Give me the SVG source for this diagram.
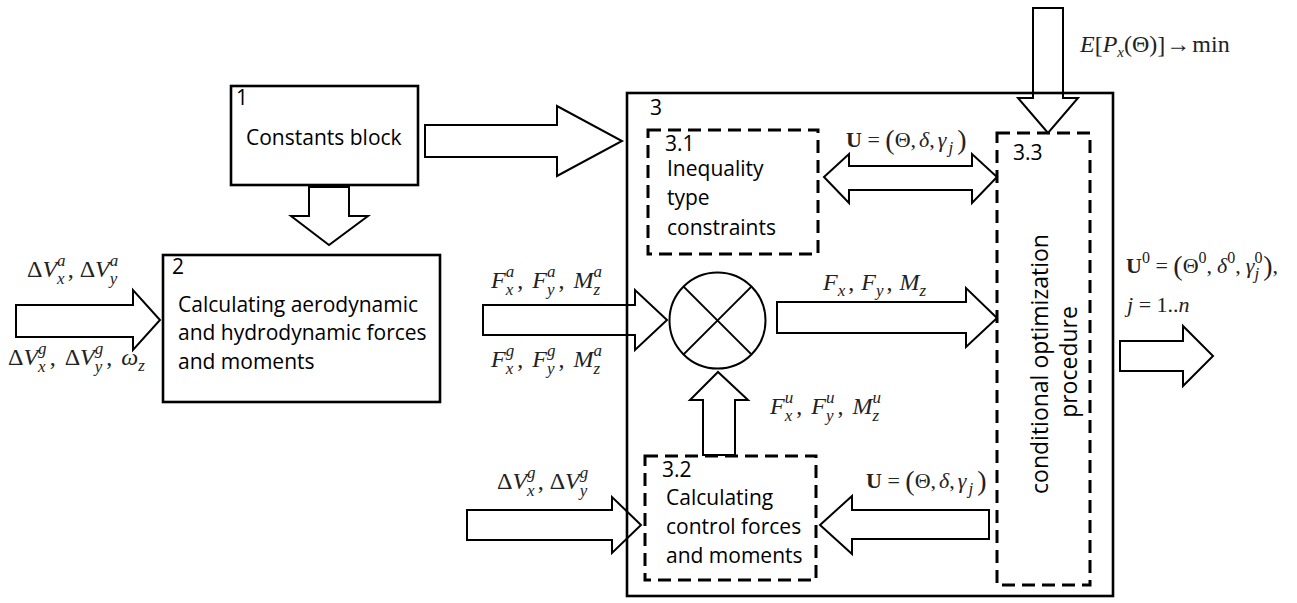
<svg xmlns="http://www.w3.org/2000/svg" width="1297" height="603" viewBox="0 0 1297 603">
<style>
.box{fill:none;stroke:#000;stroke-width:2.6}
.dbox{fill:none;stroke:#000;stroke-width:3;stroke-dasharray:13,7}
.arr{fill:#fff;stroke:#000;stroke-width:2;stroke-linejoin:miter}
.t{font-family:"Open Sans","Noto Sans","Liberation Sans",sans-serif;font-size:21px;fill:#000}
.r{font-size:23px}
.m{font-family:"Liberation Serif","DejaVu Serif",serif;font-size:24px;fill:#222}
.u{font-size:22px}
.i{font-style:italic}
.s{font-size:17px;font-style:italic}
.n{font-size:16px}
.b{font-weight:bold}
.p{font-size:28px}
</style>
<rect width="1297" height="603" fill="#fff"/>

<g id="connectors">
  <polygon class="arr" points="16,305 133,305 133,290 160,320 133,350 133,337 16,337"/>
  <polygon class="arr" points="425,125 557,125 557,106 622,141 557,176 557,157 425,157"/>
  <polygon class="arr" points="309,187 349,187 349,216 368,216 329,245 291,216 309,216"/>
  <polygon class="arr" points="483,305 635,305 635,290 667,320 635,350 635,335 483,335"/>
  <polygon class="arr" points="777,302 966,302 966,288 997,318 966,347 966,333 777,333"/>
  <polygon class="arr" points="703,455 703,400 690,400 718,372 748,400 735,400 735,455"/>
  <polygon class="arr" points="824,177 849,154 849,166 972,166 972,154 997,177 972,203 972,190 849,190 849,203"/>
  <polygon class="arr" points="467,510 612,510 612,497 641,525 612,553 612,540 467,540"/>
  <polygon class="arr" points="989,510 852,510 852,496 820,525 852,554 852,539 989,539"/>
  <polygon class="arr" points="1033,8 1063,8 1063,98 1078,98 1048,133 1018,98 1033,98"/>
  <polygon class="arr" points="1120,341 1183,341 1183,326 1213,356 1183,386 1183,371 1120,371"/>
</g>

<g id="node1">
  <rect class="box" x="231" y="86" width="187" height="99"/>
  <text class="t" x="236" y="105">1</text>
  <text class="t" x="246" y="145">Constants block</text>
</g>

<g id="node2">
  <rect class="box" x="163" y="255" width="277" height="147"/>
  <text class="t" x="172" y="274">2</text>
  <text class="t" x="178" y="312">Calculating aerodynamic</text>
  <text class="t" x="178" y="340">and hydrodynamic forces</text>
  <text class="t" x="178" y="369">and moments</text>
</g>

<g id="node3">
  <rect class="box" x="627" y="93" width="486" height="503"/>
  <text class="t" x="650" y="115">3</text>
</g>

<g id="node3_1">
  <rect class="dbox" x="648" y="130" width="170" height="124"/>
  <text class="t" x="665" y="151">3.1</text>
  <text class="t" x="667" y="176">Inequality</text>
  <text class="t" x="667" y="205">type</text>
  <text class="t" x="667" y="235">constraints</text>
</g>

<g id="node3_2">
  <rect class="dbox" x="645" y="456" width="171" height="124"/>
  <text class="t" x="662" y="477">3.2</text>
  <text class="t" x="666" y="505">Calculating</text>
  <text class="t" x="666" y="534">control forces</text>
  <text class="t" x="666" y="563">and moments</text>
</g>

<g id="node3_3">
  <rect class="dbox" x="997" y="133" width="93" height="452"/>
  <text class="t" x="1013" y="160">3.3</text>
  <text class="t r" text-anchor="middle" transform="translate(1048,364) rotate(-90)">conditional optimization</text>
  <text class="t r" text-anchor="middle" transform="translate(1077,362) rotate(-90)">procedure</text>
</g>

<g id="summator">
  <circle cx="717.5" cy="320.5" r="48" fill="#fff" stroke="#000" stroke-width="2"/>
  <line x1="683.6" y1="286.6" x2="751.4" y2="354.4" stroke="#000" stroke-width="2"/>
  <line x1="751.4" y1="286.6" x2="683.6" y2="354.4" stroke="#000" stroke-width="2"/>
</g>

<g id="labels">
  <text class="m" x="27" y="277">Δ<tspan class="i">V</tspan><tspan class="s" dy="-11">a</tspan><tspan class="s" dx="-8.5" dy="18">x</tspan><tspan dx="3" dy="-7">,</tspan><tspan dx="6">Δ</tspan><tspan class="i">V</tspan><tspan class="s" dy="-11">a</tspan><tspan class="s" dx="-8.5" dy="18">y</tspan></text>
  <text class="m" x="8" y="365">Δ<tspan class="i">V</tspan><tspan class="s" dy="-11">g</tspan><tspan class="s" dx="-8.5" dy="18">x</tspan><tspan dx="4" dy="-7">,</tspan><tspan dx="9">Δ</tspan><tspan class="i">V</tspan><tspan class="s" dy="-11">g</tspan><tspan class="s" dx="-8.5" dy="18">y</tspan><tspan dx="4" dy="-7">,</tspan><tspan class="i" dx="9">ω</tspan><tspan class="s" dy="6">z</tspan></text>

  <text class="m" x="491" y="288"><tspan class="i">F</tspan><tspan class="s" dy="-11">a</tspan><tspan class="s" dx="-8.5" dy="18">x</tspan><tspan dx="4" dy="-7">,</tspan><tspan class="i" dx="9">F</tspan><tspan class="s" dy="-11">a</tspan><tspan class="s" dx="-8.5" dy="18">y</tspan><tspan dx="4" dy="-7">,</tspan><tspan class="i" dx="9">M</tspan><tspan class="s" dy="-11">a</tspan><tspan class="s" dx="-8.5" dy="18">z</tspan></text>
  <text class="m" x="491" y="367"><tspan class="i">F</tspan><tspan class="s" dy="-11">g</tspan><tspan class="s" dx="-8.5" dy="18">x</tspan><tspan dx="4" dy="-7">,</tspan><tspan class="i" dx="9">F</tspan><tspan class="s" dy="-11">g</tspan><tspan class="s" dx="-8.5" dy="18">y</tspan><tspan dx="4" dy="-7">,</tspan><tspan class="i" dx="9">M</tspan><tspan class="s" dy="-11">a</tspan><tspan class="s" dx="-8.5" dy="18">z</tspan></text>

  <text class="m" x="823" y="290"><tspan class="i">F</tspan><tspan class="s" dy="6">x</tspan><tspan dx="3" dy="-6">,</tspan><tspan class="i" dx="7">F</tspan><tspan class="s" dy="6">y</tspan><tspan dx="3" dy="-6">,</tspan><tspan class="i" dx="7">M</tspan><tspan class="s" dy="6">z</tspan></text>

  <text class="m" x="770" y="414"><tspan class="i">F</tspan><tspan class="s" dy="-11">u</tspan><tspan class="s" dx="-8.5" dy="18">x</tspan><tspan dx="4" dy="-7">,</tspan><tspan class="i" dx="9">F</tspan><tspan class="s" dy="-11">u</tspan><tspan class="s" dx="-8.5" dy="18">y</tspan><tspan dx="4" dy="-7">,</tspan><tspan class="i" dx="9">M</tspan><tspan class="s" dy="-11">u</tspan><tspan class="s" dx="-8.5" dy="18">z</tspan></text>

  <text class="m" x="497" y="489">Δ<tspan class="i">V</tspan><tspan class="s" dy="-11">g</tspan><tspan class="s" dx="-8.5" dy="18">x</tspan><tspan dx="3" dy="-7">,</tspan><tspan dx="6">Δ</tspan><tspan class="i">V</tspan><tspan class="s" dy="-11">g</tspan><tspan class="s" dx="-8.5" dy="18">y</tspan></text>

  <text class="m u" x="846" y="147"><tspan class="b">U</tspan> = <tspan class="p" dy="2">(</tspan><tspan dy="-2">Θ,</tspan><tspan class="i" dx="3">δ</tspan>,<tspan class="i" dx="3">γ</tspan><tspan class="s" dx="2" dy="6">j</tspan><tspan class="p" dx="4" dy="-4">)</tspan></text>
  <text class="m u" x="866" y="488"><tspan class="b">U</tspan> = <tspan class="p" dy="2">(</tspan><tspan dy="-2">Θ,</tspan><tspan class="i" dx="3">δ</tspan>,<tspan class="i" dx="3">γ</tspan><tspan class="s" dx="2" dy="6">j</tspan><tspan class="p" dx="4" dy="-4">)</tspan></text>

  <text class="m u" x="1126" y="273"><tspan class="b">U</tspan><tspan class="n" dy="-10">0</tspan><tspan dy="10"> = </tspan><tspan class="p" dy="2">(</tspan><tspan dy="-2">Θ</tspan><tspan class="n" dy="-10">0</tspan><tspan dy="10">,</tspan><tspan class="i" dx="5">δ</tspan><tspan class="n" dy="-10">0</tspan><tspan dy="10">,</tspan><tspan class="i" dx="5">γ</tspan><tspan class="n" dy="-10">0</tspan><tspan class="s" dx="-8" dy="16">j</tspan><tspan class="p" dx="4" dy="-4">)</tspan><tspan dy="-2">,</tspan></text>
  <text class="m u" x="1127" y="312"><tspan class="i">j</tspan> = 1..<tspan class="i">n</tspan></text>

  <text class="m" x="1080" y="52" font-size="20"><tspan class="i">E</tspan><tspan font-size="24" dy="1">[</tspan><tspan class="i" dy="-1">P</tspan><tspan font-size="15" font-style="italic" dy="5">x</tspan><tspan dy="-5">(Θ)</tspan><tspan font-size="24" dy="1">]</tspan><tspan dx="1" dy="-1">→</tspan><tspan dx="2">min</tspan></text>
</g>
</svg>
